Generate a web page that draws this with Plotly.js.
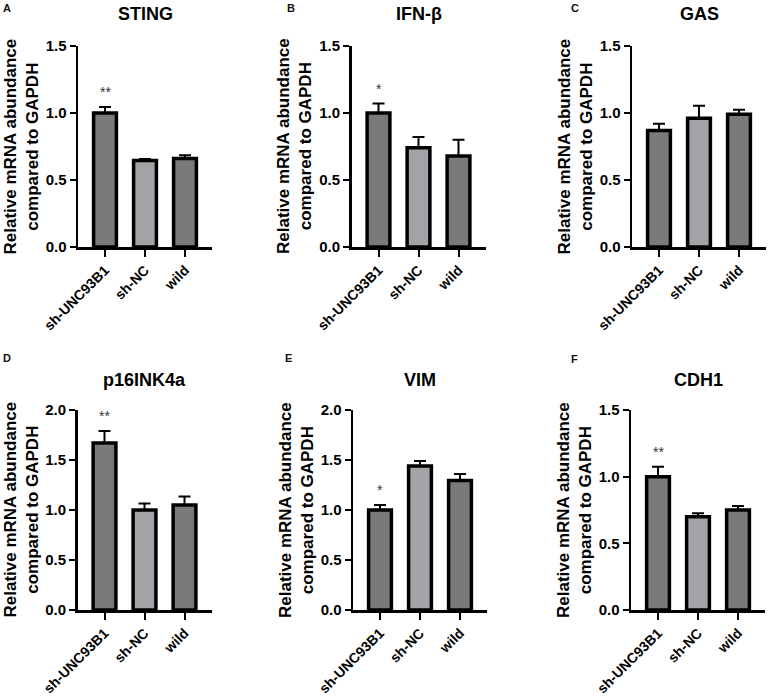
<!DOCTYPE html>
<html>
<head>
<meta charset="utf-8">
<script src="https://cdn.plot.ly/plotly-3.0.1.min.js"></script>
<style>html,body{margin:0;padding:0;background:#fff;}#chart{width:768px;height:696px;}</style>
</head>
<body>
<div id="chart"></div>
<script>
// ---- data ----
const groups = ["sh-UNC93B1", "sh-NC", "wild"];
const panelLetters = ["A", "B", "C", "D", "E", "F"];
const genes = ["STING", "IFN-β", "GAS", "p16INK4a", "VIM", "CDH1"];
const stingMean = [1.00, 0.645, 0.66];
const stingErr  = [0.045, 0.012, 0.025];
const ifnbMean  = [1.00, 0.74, 0.68];
const ifnbErr   = [0.07, 0.08, 0.12];
const gasMean   = [0.87, 0.96, 0.99];
const gasErr    = [0.05, 0.095, 0.035];
const p16Mean   = [1.67, 1.00, 1.05];
const p16Err    = [0.12, 0.065, 0.085];
const vimMean   = [1.00, 1.44, 1.295];
const vimErr    = [0.05, 0.05, 0.065];
const cdh1Mean  = [1.00, 0.70, 0.75];
const cdh1Err   = [0.075, 0.025, 0.03];
const significance = ["**", "*", "", "**", "*", "**"];
const yMax = [1.5, 1.5, 1.5, 2.0, 2.0, 1.5];
const yTitle = "Relative mRNA abundance<br>compared to GAPDH";

// ---- styling / layout ----
const means = [stingMean, ifnbMean, gasMean, p16Mean, vimMean, cdh1Mean];
const errs  = [stingErr, ifnbErr, gasErr, p16Err, vimErr, cdh1Err];
const barColors = ["#7a7a7a", "#a3a3a7", "#7a7a7a"];
const W = 768, H = 696;
const xPx = [[78, 212], [351.5, 485.5], [632, 766], [77.5, 211.5], [353, 487], [631, 765]];
const yPx = [[46, 247], [46, 247], [46, 247], [410, 610], [410, 610], [410, 610]];
const letterPos = [[7, 8], [291, 8], [575, 8], [7, 358], [288, 358], [574, 359]];
const titleY = [14, 14, 14, 380, 380, 380];
const FONT = "Liberation Sans, Arial, Helvetica, sans-serif";

const traces = [];
const layout = {
  width: W, height: H,
  margin: {l: 0, r: 0, t: 0, b: 0},
  paper_bgcolor: "#fff", plot_bgcolor: "#fff",
  showlegend: false,
  font: {family: FONT, color: "#000"},
  annotations: []
};

for (let i = 0; i < 6; i++) {
  const n = i === 0 ? "" : String(i + 1);
  traces.push({
    type: "bar",
    x: groups,
    y: means[i],
    xaxis: "x" + n, yaxis: "y" + n,
    width: 0.57,
    marker: {color: barColors, line: {color: "#000", width: 3.5}},
    error_y: {type: "data", symmetric: false, array: errs[i], arrayminus: [0, 0, 0],
              color: "#000", thickness: 2, width: 6},
    hoverinfo: "x+y"
  });
  const xd = [xPx[i][0] / W, xPx[i][1] / W];
  const yd = [1 - yPx[i][1] / H, 1 - yPx[i][0] / H];
  layout["xaxis" + n] = {
    domain: xd, anchor: "y" + n,
    type: "category", range: [-0.675, 2.675],
    showline: true, linecolor: "#000", linewidth: 2.5,
    ticks: "outside", ticklen: 7, tickwidth: 2, tickcolor: "#000",
    tickangle: -45,
    tickfont: {family: FONT, size: 14, weight: "bold", color: "#000"},
    showgrid: false, zeroline: false, fixedrange: true
  };
  layout["yaxis" + n] = {
    domain: yd, anchor: "x" + n,
    range: [0, yMax[i]], dtick: 0.5, tickformat: ".1f",
    showline: true, linecolor: "#000", linewidth: 2.5,
    ticks: "outside", ticklen: 6, tickwidth: 2, tickcolor: "#000",
    tickfont: {family: FONT, size: 15, weight: "bold", color: "#000"},
    showgrid: false, zeroline: false, fixedrange: true
  };
  // panel letter
  layout.annotations.push({
    text: panelLetters[i], xref: "paper", yref: "paper",
    x: letterPos[i][0] / W, y: 1 - letterPos[i][1] / H,
    xanchor: "center", yanchor: "middle", showarrow: false,
    font: {family: FONT, size: 11, weight: "bold", color: "#111"}
  });
  // title
  layout.annotations.push({
    text: genes[i], xref: "x" + n + " domain", yref: "paper",
    x: 0.5, y: 1 - titleY[i] / H, xanchor: "center", yanchor: "middle",
    showarrow: false,
    font: {family: FONT, size: 18, weight: "bold", color: "#000"}
  });
  // y title
  layout.annotations.push({
    text: yTitle, xref: "x" + n + " domain", yref: "y" + n + " domain",
    x: 0, y: 0.5, xshift: -57, xanchor: "center", yanchor: "middle",
    textangle: -90, showarrow: false,
    font: {family: FONT, size: 17, weight: "bold", color: "#000"}
  });
  // significance star
  if (significance[i]) {
    layout.annotations.push({
      text: significance[i], xref: "x" + n, yref: "y" + n,
      x: groups[0], y: means[i][0] + errs[i][0],
      xanchor: "center", yanchor: "bottom", yshift: 5, showarrow: false,
      font: {family: FONT, size: 14, color: "#333"}
    });
  }
}

Plotly.newPlot("chart", traces, layout, {staticPlot: true, displayModeBar: false});
</script>
</body>
</html>
